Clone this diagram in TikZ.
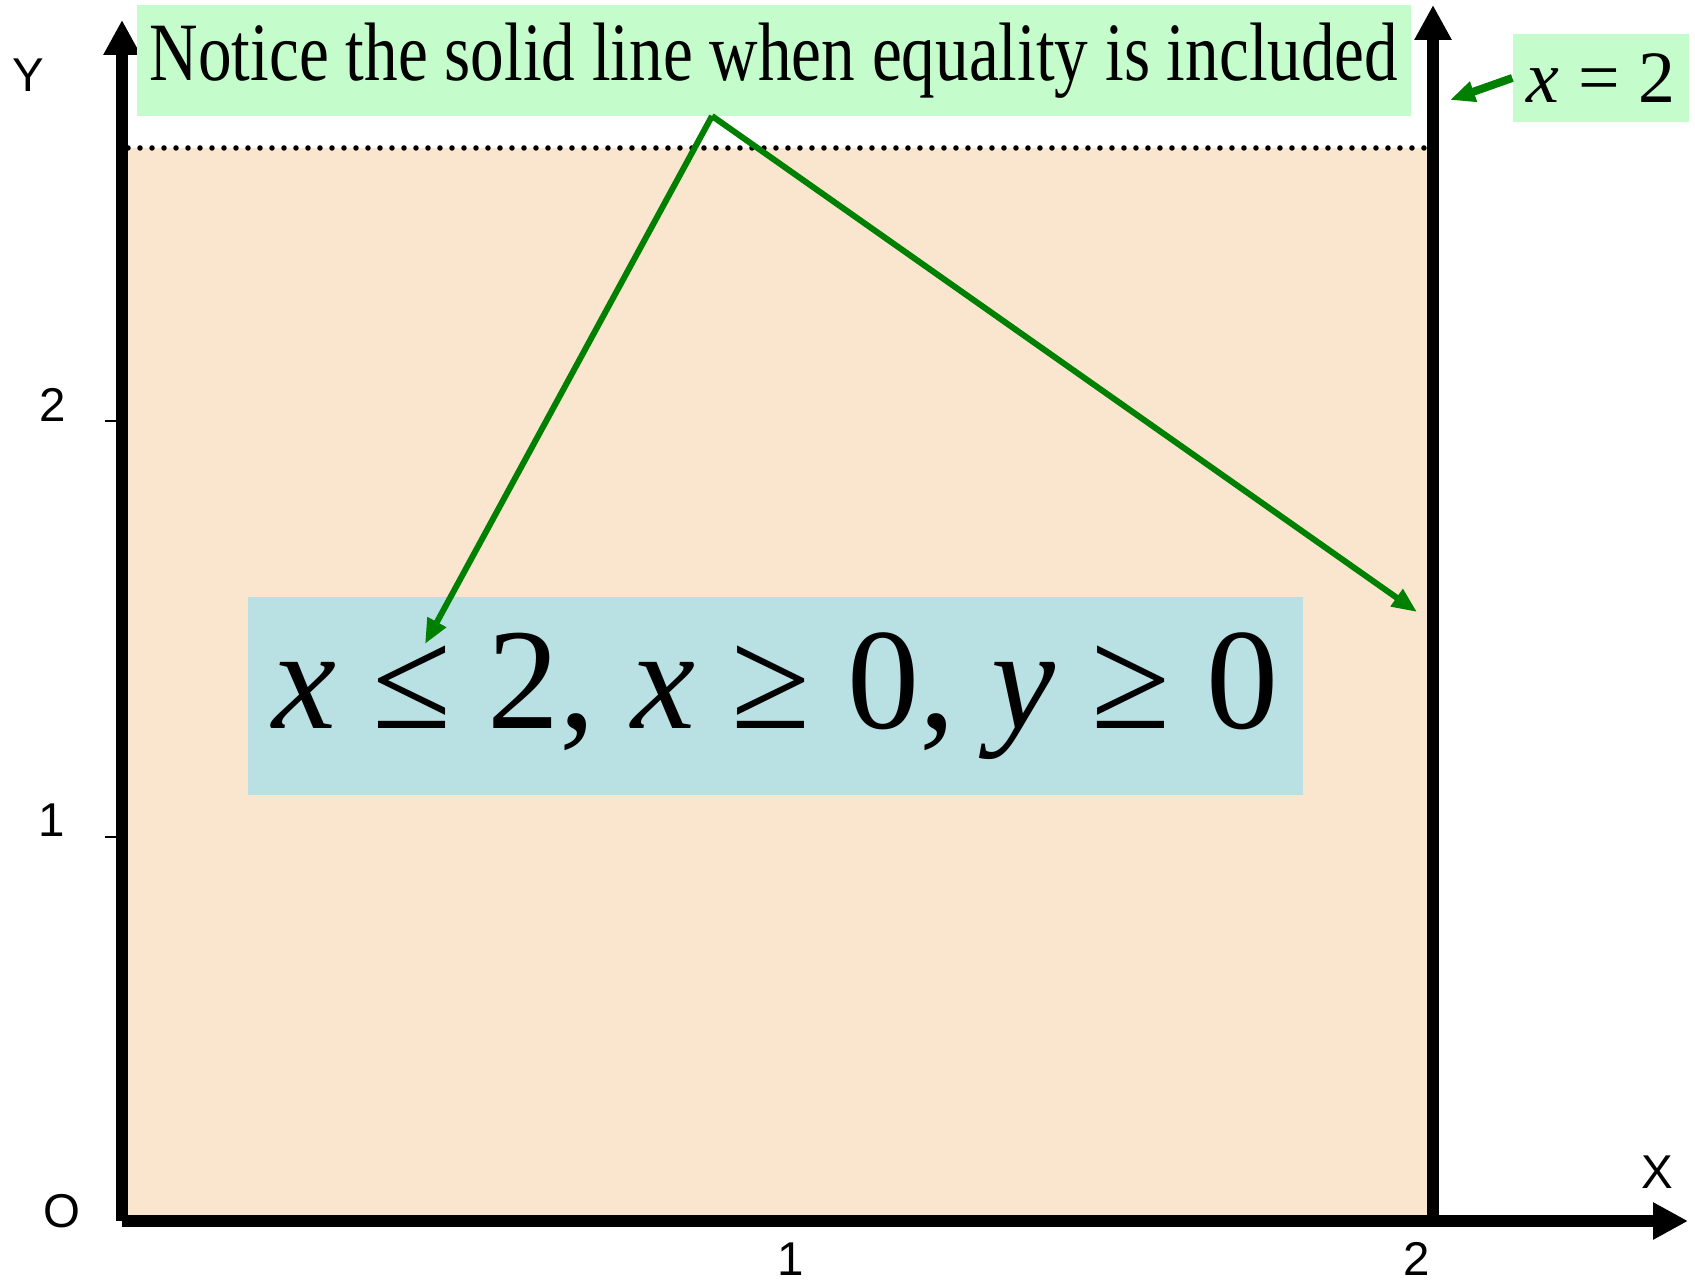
\documentclass[tikz,border=0pt]{standalone}
\usepackage{fontspec}
\setmainfont{Liberation Serif}
\newfontfamily\notefont[FakeStretch=0.81]{Liberation Serif}
\newfontfamily\axisfont{Liberation Sans}
\usetikzlibrary{arrows.meta}

\definecolor{regionfill}{HTML}{FAE6CF}
\definecolor{notefill}{HTML}{C5FCCB}
\definecolor{ineqfill}{HTML}{B9E0E3}
\definecolor{pointgreen}{HTML}{008000}

\begin{document}
\begin{tikzpicture}[
    axis/.style={-{Triangle[length=0.35cm, width=0.35cm]}, line width=0.115cm},
    dotted line/.style={line width=0.055cm, dash pattern=on 0pt off 0.12cm, line cap=round},
    tick/.style={line width=0.02cm},
    axis label/.style={font=\axisfont\fontsize{13.5}{16}\selectfont, inner sep=0pt},
    pointer/.style={pointgreen, line width=0.06cm, -{Triangle[length=0.25cm, width=0.2cm]}}
]
\useasboundingbox (0,0) rectangle (16.95,12.82);

% ==================== REGION ====================
\fill[regionfill] (1.22,0.61) rectangle (14.33,11.34);
\draw[dotted line] (1.28,11.34) -- (14.28,11.34);

% ==================== AXES ====================
\coordinate (O) at (1.22,0.61);
\draw[axis] (O) -- (1.22,12.62);
\draw[axis] (O) -- (16.88,0.61);

% Boundary x = 2 (solid)
\draw[axis] (14.33,0.61) -- (14.33,12.77);

% Ticks on Y-axis
\draw[tick] (1.05,8.61) -- (1.22,8.61);
\draw[tick] (1.05,4.45) -- (1.22,4.45);

% Axis Labels
\node[axis label] (ylab) at (0.28,12.07) {Y};
\node[axis label] (xlab) at (16.57,1.10) {X};
\node[axis label] (olab) at (0.62,0.71) {O};
\node[axis label] (ytwo) at (0.53,8.77) {2};
\node[axis label] (yone) at (0.52,4.62) {1};
\node[axis label] (xone) at (7.91,0.23) {1};
\node[axis label] (xtwo) at (14.17,0.23) {2};

% ==================== NOTES ====================
\node[fill=notefill, minimum width=12.74cm, minimum height=1.11cm, inner sep=0pt,
      font=\notefont\fontsize{23.6}{28}\selectfont] (notice) at (7.74,12.215)
    {Notice the solid line when equality is included};

\node[fill=ineqfill, minimum width=10.55cm, minimum height=1.98cm, inner sep=0pt,
      font=\fontsize{41}{48}\selectfont] (ineq) at (7.755,5.86)
    {\raisebox{-0.08cm}{\textit{x} ≤ 2, \textit{x} ≥ 0, \textit{y} ≥ 0}};

\node[fill=notefill, minimum width=1.76cm, minimum height=0.88cm, inner sep=0pt,
      font=\fontsize{21}{25}\selectfont] (eqlab) at (16.01,12.04)
    {\textit{x} = 2};

% Pointers
\coordinate (apex) at (7.12,11.66);
\coordinate (leqtip) at (4.25,6.38);
\coordinate (linetip) at (14.17,6.70);
\coordinate (eqtip) at (14.50,11.82);
\draw[pointer] (apex) -- (leqtip);
\draw[pointer] (apex) -- (linetip);
\draw[pointer, line width=0.08cm] (eqlab.west) -- (eqtip);

\end{tikzpicture}
\end{document}
